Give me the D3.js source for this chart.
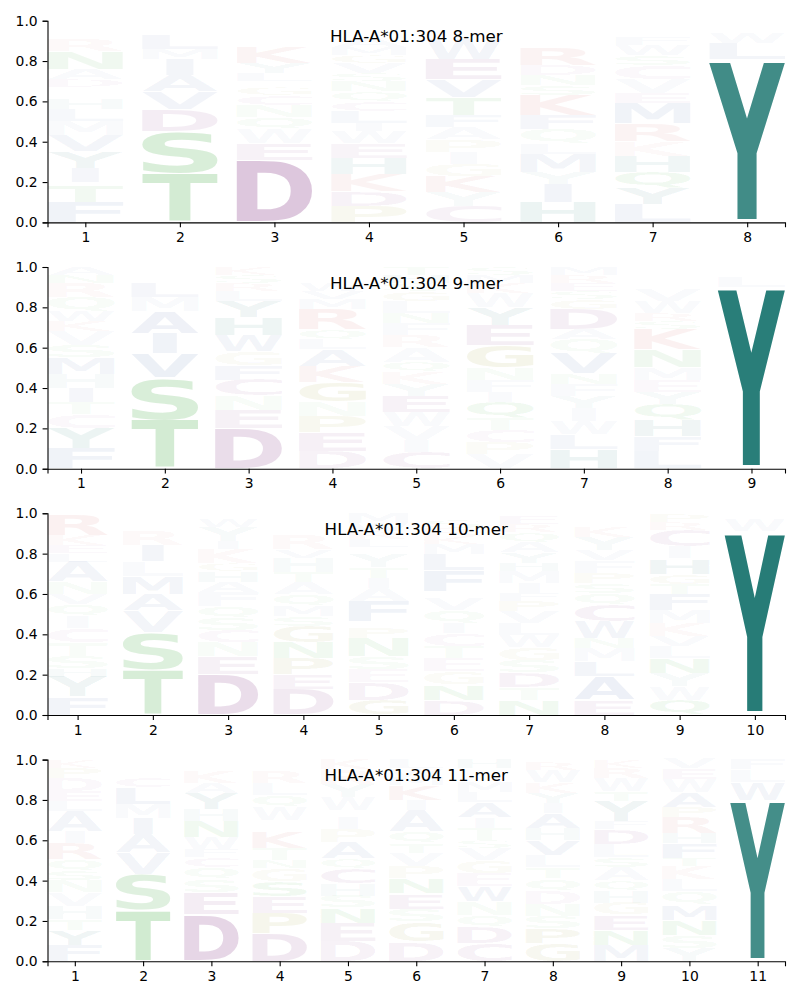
<!DOCTYPE html>
<html>
<head>
<meta charset="utf-8">
<script src="https://cdn.jsdelivr.net/npm/d3@7"></script>
<style>
body { margin: 0; background: #fff; }
text { font-family: "DejaVu Sans", sans-serif; }
</style>
</head>
<body>
<div id="chart"></div>
<script>
// letters per position, bottom to top, with their frequencies
const letters8 = ["FTSIYVMLHQGDANRKPC", "TSDVAIMLEFK", "DEWQNCGILYKRAFMS", "PDKHEWILCQNSVGMATFR",
    "CYKGIPAFTVEWLNR", "HIYMLQFKSNDREGVTA", "LYQHKRMEVCSWFNGA", "YLWFM"]
const freqs8 = [
    [.10,.08,.02,.07,.08,.08,.07,.06,.05,.03,.03,.04,.05,.09,.06,.03,.03,.03],
    [.24,.21,.11,.09,.08,.08,.05,.07,.03,.02,.02],
    [.31,.08,.07,.06,.06,.05,.04,.03,.04,.05,.08,.03,.03,.03,.02,.02],
    [.08,.075,.085,.08,.07,.06,.04,.06,.05,.05,.05,.04,.05,.04,.04,.04,.03,.03,.03],
    [.08,.07,.08,.06,.06,.06,.06,.06,.09,.09,.10,.10,.03,.03,.03],
    [.10,.09,.06,.09,.05,.07,.07,.10,.05,.05,.05,.09,.03,.03,.03,.02,.02],
    [.09,.08,.08,.08,.07,.09,.10,.05,.07,.07,.05,.05,.04,.03,.02,.03],
    [.81,.08,.05,.03,.03]
]

const letters9 = ["FYCTIHMSVKWQRNA", "TSVIAMLEFK", "DENCFGWHYLRSK", "DEPNGKALQRMVWTSF", "CIVWEYKQARFNLGSHT",
    "VPCTQIFNGEYWKMS", "HLWIYFNVQADGSERM", "LFHQYEMNKSRWVAGTC", "YLFM"]
const freqs9 = [
    [.10,.10,.07,.06,.07,.07,.08,.06,.07,.05,.05,.07,.07,.04,.04],
    [.24,.21,.12,.10,.11,.07,.07,.03,.03,.02],
    [.20,.09,.07,.08,.07,.07,.08,.09,.08,.05,.04,.04,.04],
    [.085,.095,.08,.07,.10,.08,.08,.05,.05,.10,.05,.04,.04,.03,.03,.02],
    [.08,.06,.07,.07,.08,.06,.06,.05,.07,.06,.06,.05,.06,.05,.04,.04,.04],
    [.07,.06,.06,.06,.08,.05,.06,.06,.11,.10,.09,.07,.05,.04,.04],
    [.095,.075,.065,.065,.06,.06,.05,.10,.07,.05,.10,.05,.04,.04,.04,.04],
    [.085,.075,.08,.08,.06,.06,.06,.09,.10,.04,.04,.06,.06,.03,.03,.03,.02],
    [.90,.05,.03,.02]
]

const letters10 = ["FYHSTCIQVNALEKRG", "TSVAMLIREFK", "DENCSQFAHGKIYWL", "DEPNGSMQATHVRKYWL", "GDESNPQFAITYKLRWM",
    "DNGETCIQVPFLMKRSY", "NTDSGWLVPFIMHYAQREK", "EALMNWCQSPFVYKRGD", "QWYNLVKMFTGHICRP", "YWL"]
const freqs10 = [
    [.09,.10,.04,.06,.07,.07,.06,.06,.05,.06,.10,.04,.04,.05,.10,.01],
    [.22,.19,.11,.08,.09,.07,.08,.07,.03,.03,.03],
    [.20,.09,.07,.06,.06,.06,.07,.05,.05,.04,.07,.04,.07,.04,.03],
    [.125,.075,.08,.08,.08,.05,.05,.06,.06,.05,.07,.04,.07,.03,.03,.02,.03],
    [.075,.085,.065,.065,.09,.05,.035,.10,.065,.05,.05,.065,.035,.04,.04,.04,.05],
    [.075,.075,.065,.065,.06,.065,.05,.065,.06,.035,.10,.08,.05,.04,.04,.04,.03],
    [.075,.06,.075,.06,.065,.06,.06,.06,.05,.04,.05,.06,.04,.05,.05,.05,.04,.04,.02],
    [.075,.115,.075,.065,.05,.085,.08,.06,.05,.05,.06,.05,.065,.05,.03,.03,.01],
    [.075,.065,.065,.075,.06,.05,.065,.065,.08,.05,.05,.075,.06,.08,.04,.04],
    [.91,.06,.03]
]

const letters11 = ["FYTHVNSQRIALEDPK", "TSVAIMLCEKF", "DESQCFWNHYAKLR", "DPESGNTKCHWQLRMA", "DENSHCQAPIFWYRK",
    "DGSENPVTQAIKMWL", "CDQNWEGVSTIALMFKH", "GPSNDQTLVHAIYKWR", "MNEGHQASLDFYTWRK", "YSNMQLKTFHRPAWEV", "YWLF"]
const freqs11 = [
    [.08,.075,.055,.065,.065,.06,.05,.055,.08,.06,.10,.05,.05,.065,.05,.04],
    [.25,.18,.11,.09,.08,.07,.08,.05,.03,.03,.03],
    [.23,.11,.065,.06,.05,.04,.06,.08,.06,.08,.05,.06,.03,.025],
    [.14,.10,.08,.075,.065,.04,.06,.08,.025,.035,.065,.06,.06,.06,.03,.025],
    [.10,.09,.075,.06,.06,.075,.05,.08,.065,.06,.035,.065,.065,.07,.05],
    [.095,.10,.065,.075,.075,.06,.065,.05,.06,.105,.05,.075,.04,.04,.045],
    [.09,.08,.06,.065,.075,.065,.065,.06,.04,.06,.055,.075,.05,.05,.035,.03,.045],
    [.09,.075,.06,.06,.065,.06,.055,.06,.075,.06,.075,.05,.05,.055,.06,.04],
    [.08,.075,.075,.06,.06,.05,.065,.05,.065,.075,.04,.10,.05,.065,.05,.04],
    [.065,.065,.075,.075,.065,.06,.065,.04,.075,.05,.08,.05,.075,.065,.05,.05],
    [.80,.09,.06,.05]
]

const titles = ["HLA-A*01:304 8-mer", "HLA-A*01:304 9-mer", "HLA-A*01:304 10-mer", "HLA-A*01:304 11-mer"]
const yTicks = [0, 0.2, 0.4, 0.6, 0.8, 1.0]

const panels = [
    {title: titles[0], letters: letters8, freqs: freqs8},
    {title: titles[1], letters: letters9, freqs: freqs9},
    {title: titles[2], letters: letters10, freqs: freqs10},
    {title: titles[3], letters: letters11, freqs: freqs11}
]

const AA_COLORS = {
    A: "#4062a5", V: "#4062a5", L: "#4062a5", I: "#4062a5", M: "#4062a5", F: "#4062a5", W: "#4062a5",
    Y: "#0f6e68", H: "#0f6e68",
    S: "#2ca02c", T: "#2ca02c", N: "#2ca02c", Q: "#2ca02c",
    D: "#823482", E: "#823482", C: "#823482",
    K: "#c85050", R: "#c85050",
    G: "#8a8a10", P: "#8a8a10"
}

var svg = d3.select("#chart").append("svg").attr("width", 800).attr("height", 1000)

// ink box of each glyph, so letters can be stretched to fill their cell
var ctx = document.createElement("canvas").getContext("2d")
ctx.font = "bold 200px 'DejaVu Sans'"
var inkCache = {}
function ink(ch){
    if (!inkCache[ch]) {
        var m = ctx.measureText(ch)
        inkCache[ch] = {l: m.actualBoundingBoxLeft, r: m.actualBoundingBoxRight, a: m.actualBoundingBoxAscent, d: m.actualBoundingBoxDescent}
    }
    return inkCache[ch]
}

panels.forEach(function(p, i){
    var top = 20.7 + i * 246.3, bottom = top + 201.7
    var n = p.letters.length
    var x = d3.scaleLinear().domain([0.6, n + 0.4]).range([47.5, 785])
    var y = d3.scaleLinear().domain([0, 1]).range([bottom, top])
    var g = svg.append("g")

    p.letters.forEach(function(str, j){
        var base = 0
        str.split("").forEach(function(ch, k){
            var f = p.freqs[j][k]
            var yb = y(base), yt = y(base + f)
            base += f
            var pad = (yb - yt) * 0.02
            var bh = yb - yt - 2 * pad
            var bw = x(0.8) - x(0)
            var bx = x(j + 1) - bw / 2
            if (ch == "I") { bx += bw * 0.32; bw = bw * 0.36 }
            var b = ink(ch)
            var sx = bw / (b.l + b.r), sy = bh / (b.a + b.d)
            g.append("text").text(ch)
                .attr("x", 0).attr("y", 0)
                .attr("font-size", 200).attr("font-weight", "bold")
                .attr("fill", AA_COLORS[ch])
                .attr("fill-opacity", Math.min(1, Math.pow(f, 1.1)))
                .attr("transform", "translate(" + bx + "," + (yt + pad) + ") scale(" + sx + "," + sy + ") translate(" + b.l + "," + b.a + ")")
        })
    })

    var yAxis = d3.axisLeft(y).tickValues(yTicks).tickFormat(d3.format(".1f")).tickSizeOuter(0).tickSize(4.9).tickPadding(4.9)
    var xAxis = d3.axisBottom(x).tickValues(d3.range(1, n + 1)).tickFormat(d3.format("d")).tickSizeOuter(0).tickSize(4.9).tickPadding(4.9)

    var ya = svg.append("g").attr("transform", "translate(47.5,0)").call(yAxis)
    var xa = svg.append("g").attr("transform", "translate(0," + bottom + ")").call(xAxis)
    ;[ya, xa].forEach(function(a){
        a.selectAll("path, line").attr("stroke", "#000").attr("stroke-width", 1.1)
        a.selectAll("text").attr("fill", "#000").style("font-size", "13.9px").style("font-family", "DejaVu Sans")
    })

    svg.append("text").attr("x", (47.5 + 785) / 2).attr("y", top + 21.5)
        .attr("text-anchor", "middle").style("font-size", "16.7px").attr("fill", "#000")
        .text(p.title)
})
</script>
</body>
</html>
